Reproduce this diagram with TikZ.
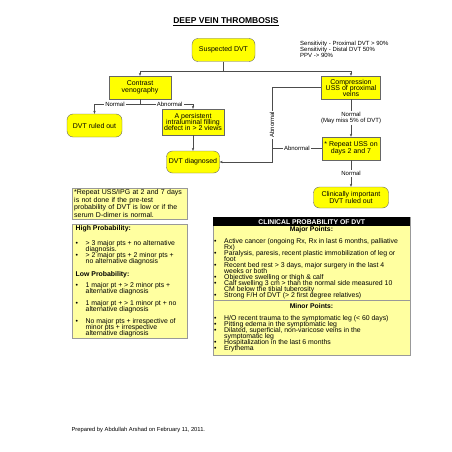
\documentclass[tikz,border=0pt]{standalone}
\usepackage{fontspec}
\setmainfont{Liberation Sans}
\usepackage{xcolor}
\usetikzlibrary{arrows.meta}
\definecolor{boxyellow}{RGB}{255,255,0}
\definecolor{paleyellow}{RGB}{255,255,160}
\newcommand{\itembul}{\makebox[10pt][l]{•}}
\newcommand{\itemcont}{\hspace*{10pt}}
\lineskiplimit=-100pt
\tikzset{every node/.style={font=\fontsize{7}{7}\selectfont},
 flowbox/.style={draw=black!60, fill=boxyellow, align=center, inner sep=1pt},
 roundbox/.style={flowbox, rounded corners=6pt},
 notebox/.style={draw=black!40, fill=paleyellow},
 link/.style={draw=black!70, line width=0.4pt},
 arr/.style={link, -{Stealth[length=3pt,width=2.4pt]}},
 linklabel/.style={fill=white, inner sep=1pt, align=center, font=\fontsize{6}{6.5}\selectfont},
 listtext/.style={anchor=north west, inner sep=0pt, align=left, font=\fontsize{6.9}{6}\selectfont},
 headtext/.style={font=\bfseries\fontsize{6.8}{6.8}\selectfont},
 }

\begin{document}
\begin{tikzpicture}[x=1pt, y=-1pt]
        \useasboundingbox (0,0) rectangle (452,452);
        \fill[white] (0,0) rectangle (452,452);
        \node[font=\bfseries\fontsize{8.5}{8.5}\selectfont] (title) at (226,22) {\underline{DEEP VEIN THROMBOSIS}};
        \node[listtext, font=\fontsize{6}{6}\selectfont] (sens) at (300,41) {Sensitivity - Proximal DVT > 90\%\\Sensitivity - Distal DVT 50\%\\PPV -> 90\%};

        \node[roundbox, minimum width=63pt, minimum height=23pt] (susp) at (223.5,50) {Suspected DVT};
        \node[flowbox, minimum width=62pt, minimum height=23pt] (contrast) at (140,87.5) {Contrast\\venography};
        \node[flowbox, minimum width=59pt, minimum height=23pt, font=\fontsize{7}{6}\selectfont] (comp) at (351,87.5) {Compression\\USS of proximal\\veins};
        \node[roundbox, minimum width=55pt, minimum height=23pt] (dvtout) at (94.5,125.5) {DVT ruled out};
        \node[flowbox, minimum width=62pt, minimum height=26pt, font=\fontsize{7}{6}\selectfont] (persist) at (193,122) {A persistent\\intraluminal filling\\defect in > 2 views};
        \node[roundbox, minimum width=53pt, minimum height=22pt] (dvtdx) at (193,162) {DVT diagnosed};
        \node[flowbox, minimum width=58pt, minimum height=23pt] (repeat) at (351,148.5) {* Repeat USS on\\days 2 and 7};
        \node[roundbox, minimum width=75pt, minimum height=21pt] (clinic) at (351,197.5) {Clinically important\\DVT ruled out};

        \coordinate (split) at (223.5,71);
        \coordinate (csplit) at (140,104);
        \coordinate (abnx) at (272,120);
        \draw[link] (susp) -- (split);
        \draw[arr] (split) -| (contrast);
        \draw[arr] (split) -| (comp);
        \draw[link] (contrast) -- (csplit);
        \draw[arr] (csplit) -| node[linklabel, pos=0.275] {Normal} (dvtout);
        \draw[arr] (csplit) -| node[linklabel, pos=0.28] {Abnormal} (persist);
        \draw[arr] (persist) -- (dvtdx);
        \draw[arr] (comp.west) -- (comp.west -| abnx) -- node[linklabel, rotate=90] {Abnormal} (abnx |- dvtdx.east) -- (dvtdx.east);
        \draw[link] (repeat.west) -- node[linklabel] {Abnormal} (repeat.west -| abnx);
        \draw[arr] (comp) -- node[linklabel] {Normal\\(May miss 5\% of DVT)} (repeat);
        \draw[arr] (repeat) -- node[linklabel] {Normal} (clinic);

        \node[notebox, anchor=north west, text width=111pt, inner xsep=2pt, inner ysep=1.5pt, align=left, font=\fontsize{7}{6.5}\selectfont] (note) at (72,188) {*Repeat USS/IPG at 2 and 7 days\\is not done if the pre-test\\probability of DVT is low or if the\\serum D-dimer is normal.};

        \node[notebox, anchor=north west, minimum width=115pt, minimum height=114pt] (probbox) at (72,224) {};
        \node[listtext] (probtext) at (75.5,225) {\textbf{High Probability:}\\[9pt]
        \itembul > 3 major pts + no alternative\\
        \itemcont diagnosis.\\
        \itembul > 2 major pts + 2 minor pts +\\
        \itemcont no alternative diagnosis\\[7pt]
        \textbf{Low Probability:}\\[5pt]
        \itembul 1 major pt + > 2 minor pts +\\
        \itemcont alternative diagnosis\\[6pt]
        \itembul 1 major pt + > 1 minor pt + no\\
        \itemcont alternative diagnosis\\[6pt]
        \itembul No major pts + irrespective of\\
        \itemcont minor pts + irrespective\\
        \itemcont alternative diagnosis};

        \node[notebox, anchor=north west, minimum width=197pt, minimum height=138pt] (clinbox) at (213,217) {};
        \node[fill=black, text=white, anchor=north west, minimum width=197pt, minimum height=9pt, inner sep=0pt, headtext] (clinhead) at (213,217) {CLINICAL PROBABILITY OF DVT};
        \node[headtext] (majhead) at (311.5,229.5) {Major Points:};
        \node[listtext] (majtext) at (214,238) {\itembul Active cancer (ongoing Rx, Rx in last 6 months, palliative\\
        \itemcont Rx)\\
        \itembul Paralysis, paresis, recent plastic immobilization of leg or\\
        \itemcont foot\\
        \itembul Recent bed rest > 3 days, major surgery in the last 4\\
        \itemcont weeks or both\\
        \itembul Objective swelling or thigh \& calf\\
        \itembul Calf swelling 3 cm > than the normal side measured 10\\
        \itemcont CM below the tibial tuberosity\\
        \itembul Strong F/H of DVT (> 2 first degree relatives)};
        \draw[draw=black!40] (213,300) -- (410,300);
        \node[headtext] (minhead) at (311.5,306) {Minor Points:};
        \node[listtext] (mintext) at (214,315) {\itembul H/O recent trauma to the symptomatic leg (< 60 days)\\
        \itembul Pitting edema in the symptomatic leg\\
        \itembul Dilated, superficial, non-varicose veins in the\\
        \itemcont symptomatic leg\\
        \itembul Hospitalization in the last 6 months\\
        \itembul Erythema};

        \node[anchor=west, font=\fontsize{5.8}{5.8}\selectfont] (footer) at (68,430) {Prepared by Abdullah Arshad on February 11, 2011.};
    \end{tikzpicture}
\end{document}
